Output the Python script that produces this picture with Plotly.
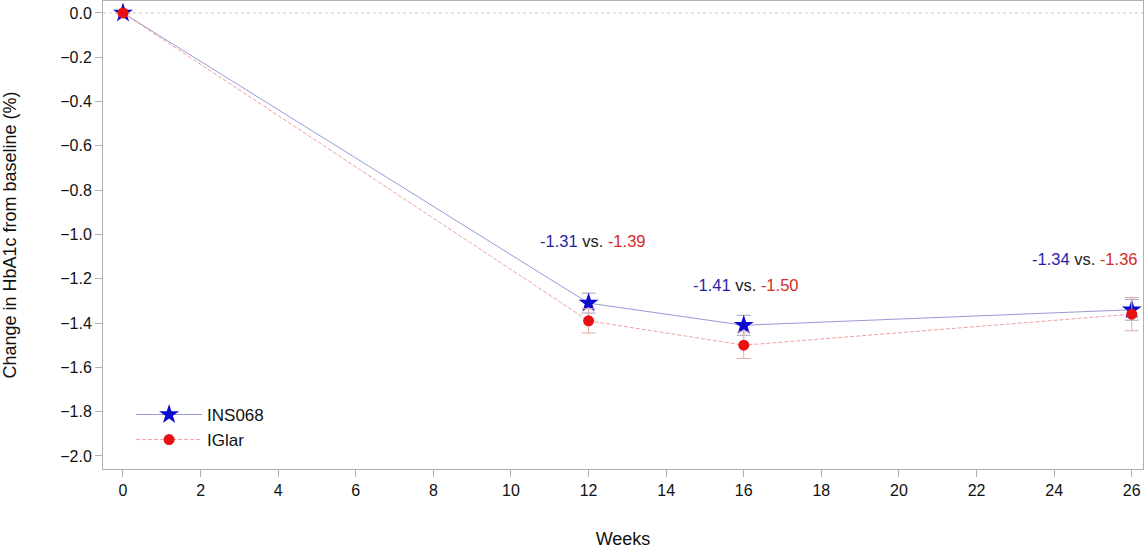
import plotly.graph_objects as go

weeks = [0, 12, 16, 26]
ins068 = [0.0, -1.31, -1.41, -1.34]
ins068_se = [0.0, 0.045, 0.045, 0.047]
iglar = [0.0, -1.39, -1.50, -1.36]
iglar_se = [0.0, 0.055, 0.06, 0.075]

ann_x = [12.1, 16.05, 24.78]
ann_y = [-1.03, -1.23, -1.11]
ann_a = ["-1.31", "-1.41", "-1.34"]
ann_b = ["-1.39", "-1.50", "-1.36"]

xticks = list(range(0, 27, 2))
yticks = [round(-0.2 * i, 1) for i in range(11)]

BLUE = "#1f1fa8"
RED = "#d42a2a"
font = "Liberation Sans, Arial, sans-serif"

fig = go.Figure()
fig.add_trace(go.Scatter(
    x=weeks, y=ins068, name="INS068", mode="lines+markers",
    line=dict(color="#9a9ad8", width=1),
    marker=dict(symbol="star", size=15, color="#0a0ad0", line=dict(width=0)),
    error_y=dict(type="data", array=ins068_se, color="#a0a0c0", thickness=1, width=7),
))
fig.add_trace(go.Scatter(
    x=weeks, y=iglar, name="IGlar", mode="lines+markers",
    line=dict(color="#f0a0a0", width=1, dash="4px,2px"),
    marker=dict(symbol="circle", size=11, color="#e81010", line=dict(width=0)),
    error_y=dict(type="data", array=iglar_se, color="#e0a8a8", thickness=1, width=7),
))

for x, y, a, b in zip(ann_x, ann_y, ann_a, ann_b):
    fig.add_annotation(
        x=x, y=y, xref="x", yref="y", showarrow=False,
        text=f"<span style='color:{BLUE}'>{a}</span> vs. <span style='color:{RED}'>{b}</span>",
        font=dict(size=16.5, color="#222222", family=font),
    )

fig.add_shape(type="line", xref="paper", x0=0, x1=1, yref="y", y0=0, y1=0,
              line=dict(color="#c8c8c8", width=1, dash="dot"), layer="below")

fig.update_layout(
    width=1147, height=549,
    margin=dict(l=103, r=4, t=1, b=80),
    plot_bgcolor="white", paper_bgcolor="white",
    font=dict(family=font, size=16, color="#111111"),
    showlegend=True,
    legend=dict(x=0.027, y=0.154, xanchor="left", yanchor="top",
                bgcolor="rgba(0,0,0,0)", font=dict(size=17),
                itemwidth=66, tracegroupgap=2),
    xaxis=dict(
        range=[-0.515, 26.29], tickvals=xticks, ticks="outside", ticklen=7,
        tickcolor="#b0b0b0", showline=True, linecolor="#b0b0b0", mirror=True,
        showgrid=False, zeroline=False, automargin=False,
        title=dict(text="Weeks", font=dict(size=18), standoff=34),
    ),
    yaxis=dict(
        range=[-2.059, 0.054], tickvals=yticks, tickformat=".1f", ticks="outside",
        ticklen=7, tickcolor="#b0b0b0", showline=True, linecolor="#b0b0b0", mirror=True,
        showgrid=False, zeroline=False, automargin=False,
        title=dict(text="Change in HbA1c from baseline (%)", font=dict(size=18), standoff=40),
    ),
)

fig.write_html(
    "out.html",
    config={"displayModeBar": False},
    post_script="document.body.style.margin='0';document.body.style.overflow='hidden';",
)
